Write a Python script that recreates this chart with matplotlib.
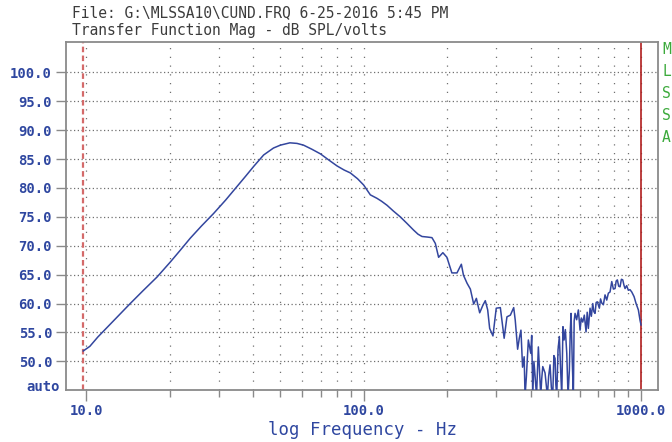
import numpy as np
import matplotlib
matplotlib.use("Agg")
import matplotlib.pyplot as plt
from matplotlib.ticker import FixedLocator, NullFormatter

# measured transfer function magnitude (Hz, dB SPL/volts)
freq = [9.75, 10.3, 11.0, 11.9, 13.0, 14.4, 16.0, 18.0, 20.1, 21.8, 23.7, 26.0,
        28.8, 31.8, 34.9, 37.5, 40.1, 43.6, 47.3, 50.1, 54.2, 57.5, 60.7, 65.0,
        69.8, 75.0, 80.2, 85.0, 89.5, 95.0, 100.0, 105.7, 111.7, 116.0, 121.4,
        128.0, 135.5, 143.0, 151.4, 157.0, 162.3, 170.0, 176.3, 181.3, 186.3,
        193.0, 199.6, 208.0, 217.0, 225.0, 229.0, 236.0, 242.5, 249.3, 254.9,
        262.0, 269.0, 274.5, 280.0, 284.6, 292.5, 300.6, 311.0, 321.0, 328.5,
        338.0, 347.5, 352.0, 359.0, 364.0, 369.0, 374.0, 379.0, 381.8, 386.0,
        392.4, 400.3, 403.5, 407.0, 411.0, 414.8, 420.0, 426.4, 430.5, 435.0,
        438.5, 442.3, 450.8, 455.0, 459.5, 464.5, 469.9, 475.0, 480.5, 485.0,
        489.8, 493.0, 496.8, 502.0, 507.6, 512.5, 517.9, 523.0, 527.9, 533.5,
        539.8, 545.5, 551.6, 555.5, 559.4, 565.0, 570.2, 574.0, 578.3, 586.0,
        594.3, 602.8, 609.0, 616.4, 624.5, 633.5, 639.5, 645.7, 654.9, 662.0,
        669.8, 676.0, 682.7, 689.0, 695.9, 707.5, 714.5, 721.7, 731.5, 741.7,
        752.2, 762.5, 773.1, 784.2, 795.0, 806.0, 813.5, 821.6, 830.5, 840.2,
        849.5, 859.3, 867.5, 875.7, 887.5, 900.0, 912.5, 925.9, 943.8, 959.6,
        978.1, 991.8, 1000.0]
mag = [51.8, 52.6, 54.2, 55.9, 57.8, 60.0, 62.2, 64.6, 67.2, 69.2, 71.3, 73.4,
       75.6, 77.9, 80.2, 82.0, 83.7, 85.7, 86.9, 87.4, 87.8, 87.7, 87.4, 86.7,
       85.9, 84.8, 83.8, 83.1, 82.6, 81.6, 80.5, 78.8, 78.2, 77.7, 77.0,
       76.0, 75.0, 73.9, 72.7, 72.0, 71.6, 71.5, 71.4, 70.4, 68.0,
       68.8, 68.0, 65.3, 65.3, 66.8, 64.9, 63.5, 62.5, 59.9, 60.9,
       58.4, 59.7, 60.5, 58.9, 55.7, 54.4, 59.2, 59.3, 54.0, 57.7,
       58.0, 59.3, 57.1, 52.1, 54.0, 55.4, 49.0, 50.8, 44.0, 47.3,
       53.7, 51.4, 54.5, 44.0, 50.0, 47.6, 44.0, 52.5, 48.5, 44.0,
       47.0, 49.1, 48.0, 46.0, 44.0, 47.5, 49.4, 45.5, 44.0, 51.0,
       50.5, 46.0, 44.0, 52.0, 54.3, 49.0, 44.0, 56.0, 53.7, 55.5,
       51.4, 44.0, 48.5, 55.0, 58.3, 50.0, 44.0, 57.0, 58.3, 57.2,
       58.9, 55.4, 57.5, 56.8, 58.0, 55.1, 58.5, 55.7, 59.2, 57.8,
       60.0, 58.6, 58.3, 60.2, 60.3, 59.2, 60.8, 60.1, 59.8, 61.5,
       60.6, 61.8, 62.0, 63.8, 62.5, 62.6, 63.9, 64.1, 63.0, 62.9,
       64.2, 64.1, 63.2, 62.6, 63.1, 62.3, 62.4, 62.0, 61.2, 60.0,
       58.9, 57.1, 56.3]

y_ticks = [50, 55, 60, 65, 70, 75, 80, 85, 90, 95, 100]
x_major = [10, 100, 1000]
x_minor = [20, 30, 40, 50, 60, 70, 80, 90, 200, 300, 400, 500, 600, 700, 800, 900]

blue = "#2f47a0"
frame = "#8a8a8a"

fig = plt.figure(figsize=(6.72, 4.42), dpi=100)
ax = fig.add_axes([0.0982, 0.117, 0.8814, 0.788])
ax.set_xscale("log")
ax.set_xlim(8.45, 1154)
ax.set_ylim(45, 105.24)

# dotted grid
for y in y_ticks:
    ax.axhline(y, color="#707070", lw=0.9, ls=(0, (1, 2)), zorder=1)
for x in x_major + x_minor:
    ax.axvline(x, color="#707070", lw=0.9, ls=(0, (1, 6)), zorder=1)

# frequency limits
ax.axvline(9.75, color="#d46a6a", lw=1.6, ls=(0, (2.5, 1.5)), zorder=2)
ax.axvline(1000, color="#b01e1e", lw=1.2, zorder=2)

ax.plot(freq, mag, color="#33469e", lw=1.1, zorder=3)

for s in ax.spines.values():
    s.set_color(frame)
    s.set_linewidth(1.3)

ax.set_yticks(y_ticks)
ax.set_yticklabels(["%.1f" % v for v in y_ticks])
ax.xaxis.set_major_locator(FixedLocator(x_major))
ax.xaxis.set_minor_locator(FixedLocator(x_minor))
ax.xaxis.set_minor_formatter(NullFormatter())
ax.set_xticklabels(["10.0", "100.0", "1000.0"])
ax.tick_params(axis="y", which="both", direction="out", length=7, width=1,
               color=frame, pad=3, labelcolor=blue)
ax.tick_params(axis="x", which="major", direction="out", length=8, width=1,
               color=frame, pad=2, labelcolor=blue)
ax.tick_params(axis="x", which="minor", direction="out", length=5, width=1,
               color=frame)
for lab in ax.get_xticklabels() + ax.get_yticklabels():
    lab.set_family("DejaVu Sans Mono")
    lab.set_fontweight("bold")
    lab.set_fontsize(10)

ax.text(-0.011, 0.01, "auto", transform=ax.transAxes, ha="right", va="center",
        family="DejaVu Sans Mono", fontweight="bold", fontsize=10, color=blue)

fig.text(362 / 672, 1 - 430 / 442, "log Frequency - Hz", family="DejaVu Sans Mono",
         fontsize=12.5, color=blue, ha="center", va="center")

fig.text(72 / 672, 1 - 13 / 442, r"File: G:\MLSSA10\CUND.FRQ 6-25-2016 5:45 PM",
         family="DejaVu Sans Mono", fontsize=10.5, color="#3c3c3c", va="center")
fig.text(72 / 672, 1 - 31 / 442, "Transfer Function Mag - dB SPL/volts",
         family="DejaVu Sans Mono", fontsize=10.5, color="#3c3c3c", va="center")

for i, ch in enumerate("MLSSA"):
    fig.text(662 / 672, 1 - (50 + i * 22) / 442, ch, family="DejaVu Sans Mono",
             fontsize=10.5, color="#3caa3c", va="center", ha="left")

fig.savefig("out.png", dpi=100)
